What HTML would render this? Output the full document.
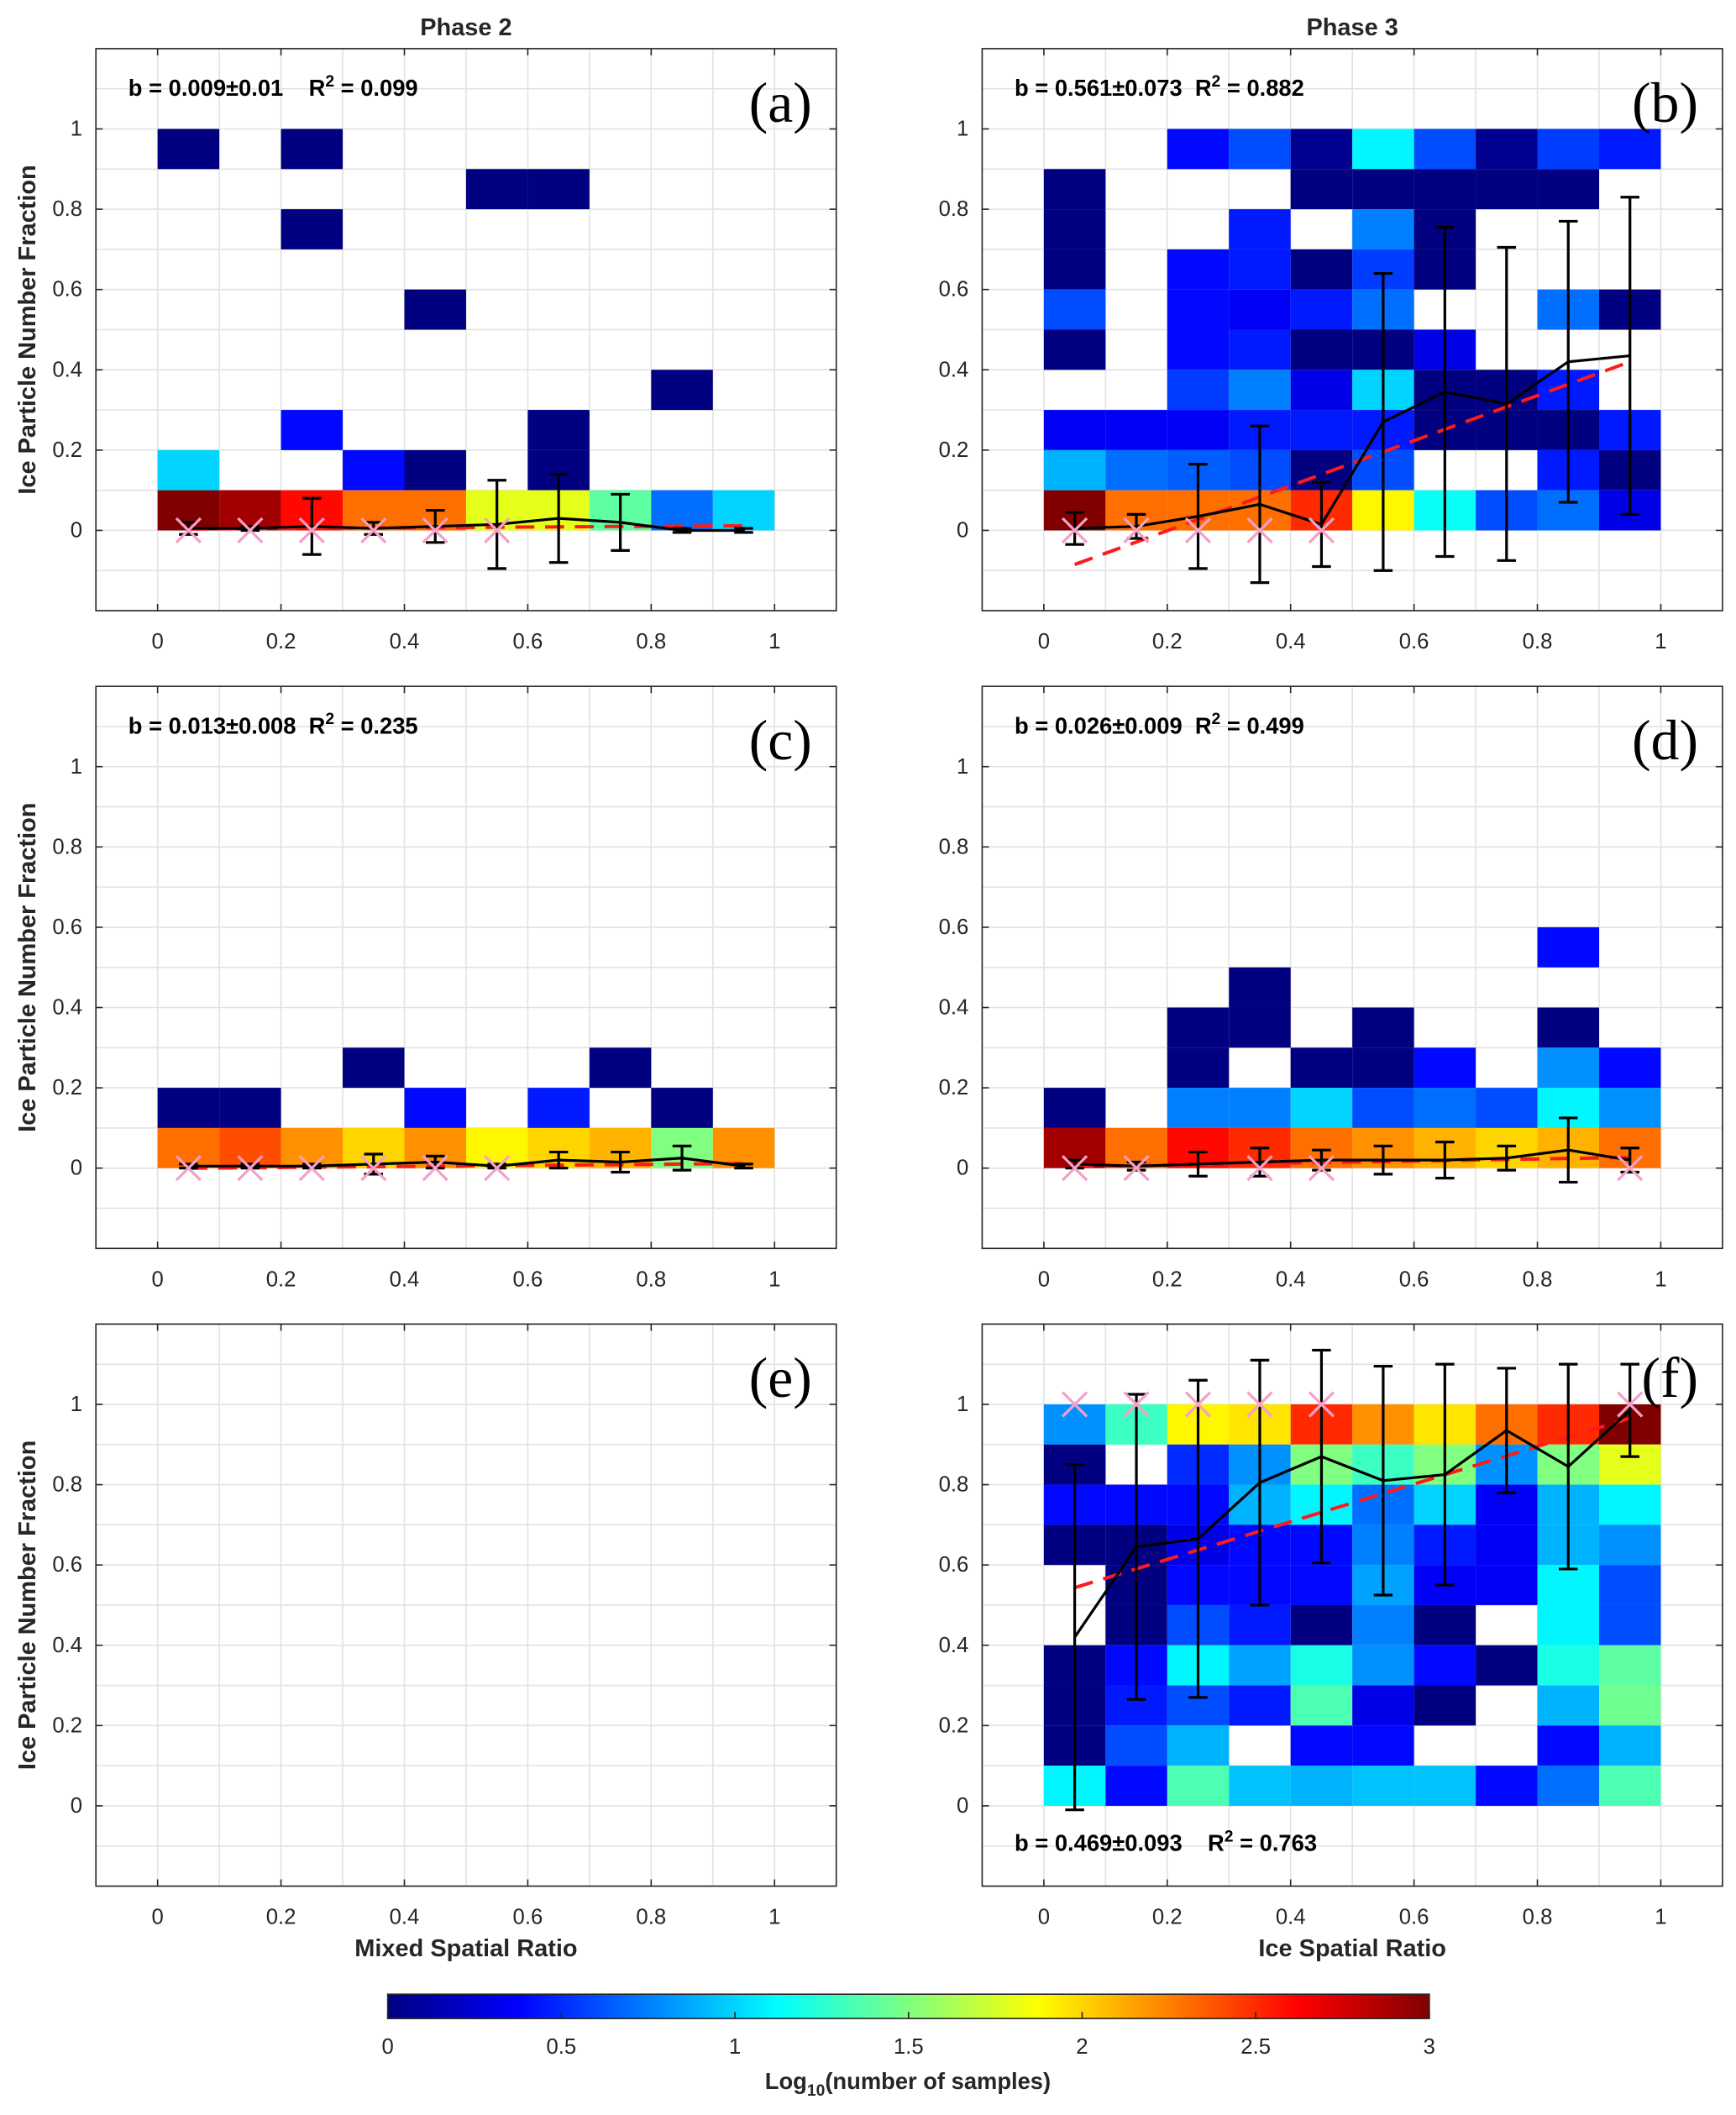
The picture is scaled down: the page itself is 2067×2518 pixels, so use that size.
<!DOCTYPE html>
<html><head><meta charset="utf-8"><style>
html,body{margin:0;padding:0;background:#fff}
svg{display:block}
text{font-family:"Liberation Sans",sans-serif}
</style></head><body>
<svg id="fig" width="2067" height="2518" viewBox="0 0 1285 1565.4" preserveAspectRatio="none" xmlns="http://www.w3.org/2000/svg">
<defs>
<linearGradient id="jet" x1="0" x2="1" y1="0" y2="0">
<stop offset="0" stop-color="#000080"/><stop offset="0.125" stop-color="#0000ff"/>
<stop offset="0.375" stop-color="#00ffff"/><stop offset="0.625" stop-color="#ffff00"/>
<stop offset="0.875" stop-color="#ff0000"/><stop offset="1" stop-color="#800000"/>
</linearGradient>
</defs>
</svg>
<script>
const n=null;
const xTicks=[0,0.2,0.4,0.6,0.8,1];
const yTicks=[0,0.2,0.4,0.6,0.8,1];
const cbTicks=[0,0.5,1,1.5,2,2.5,3];
const binCenters=[0.05,0.15,0.25,0.35,0.45,0.55,0.65,0.75,0.85,0.95];
const gridA=[[0,n,0,n,n,n,n,n,n,n],[n,n,n,n,n,0,0,n,n,n],[n,n,0,n,n,n,n,n,n,n],[n,n,n,n,n,n,n,n,n,n],[n,n,n,n,0,n,n,n,n,n],[n,n,n,n,n,n,n,n,n,n],[n,n,n,n,n,n,n,n,0,n],[n,n,0.4,n,n,n,0,n,n,n],[1.0,n,n,0.4,0,n,0,n,n,n],[3,2.9,2.6,2.3,2.3,1.8,1.8,1.4,0.7,1.0]];
const gridB=[[n,n,0.4,0.6,0.05,1.1,0.6,0.05,0.55,0.45],[0,n,n,n,0,0,0,0,0,n],[0,n,n,0.45,n,0.75,0,n,n,n],[0,n,0.4,0.45,0,0.55,0,n,n,n],[0.6,n,0.4,0.35,0.45,0.7,n,n,0.7,0],[0,n,0.4,0.45,0,0,0.3,n,n,n],[n,n,0.55,0.75,0.3,1.0,0,0,0.45,n],[0.35,0.35,0.35,0.45,0.45,0.45,0,0,0,0.45],[0.9,0.7,0.65,0.6,0,0.6,n,n,0.45,0],[3,2.3,2.3,2.3,2.5,1.9,1.15,0.6,0.7,0.3]];
const gridC=[[n,n,n,n,n,n,n,n,n,n],[n,n,n,n,n,n,n,n,n,n],[n,n,n,n,n,n,n,n,n,n],[n,n,n,n,n,n,n,n,n,n],[n,n,n,n,n,n,n,n,n,n],[n,n,n,n,n,n,n,n,n,n],[n,n,n,n,n,n,n,n,n,n],[n,n,n,0,n,n,n,0,n,n],[0,0,n,n,0.4,n,0.45,n,0,n],[2.3,2.4,2.2,2.0,2.2,1.9,2.0,2.1,1.5,2.2]];
const gridD=[[n,n,n,n,n,n,n,n,n,n],[n,n,n,n,n,n,n,n,n,n],[n,n,n,n,n,n,n,n,n,n],[n,n,n,n,n,n,n,n,n,n],[n,n,n,n,n,n,n,n,0.4,n],[n,n,n,0,n,n,n,n,n,n],[n,n,0,0,n,0,n,n,0,n],[n,n,0,n,0,0,0.4,n,0.8,0.4],[0,n,0.75,0.75,1.0,0.6,0.7,0.6,1.1,0.8],[2.9,2.3,2.6,2.5,2.3,2.2,2.1,2.0,2.1,2.3]];
const gridF=[[0.8,1.3,1.9,1.95,2.5,2.2,1.95,2.3,2.5,3],[0,n,0.5,0.8,1.5,1.3,1.5,0.8,1.5,1.8],[0.4,0.4,0.4,0.9,1.1,0.7,1.0,0.35,0.9,1.1],[0,0,0.3,0.4,0.4,0.75,0.45,0.35,0.9,0.8],[n,0,0.4,0.4,0.4,0.85,0.35,0.35,1.1,0.6],[n,0,0.6,0.45,0,0.75,0,n,1.1,0.6],[0,0.4,1.1,0.85,1.2,0.8,0.4,0,1.2,1.4],[0,0.45,0.6,0.45,1.35,0.3,0,n,0.9,1.45],[0,0.6,0.9,n,0.4,0.4,n,n,0.4,0.9],[1.1,0.4,1.35,0.95,0.9,0.95,0.95,0.4,0.7,1.35]];
const meanA=[0.005,0.005,0.01,0.005,0.01,0.015,0.03,0.02,0,0];
const errA=[0.015,0.005,0.07,0.015,0.04,0.11,0.11,0.07,0.005,0.005];
const medA=[0,0,0,0,0,0,n,n,n,n];
const meanB=[0.005,0.01,0.035,0.065,0.015,0.27,0.345,0.315,0.42,0.435];
const errB=[0.04,0.03,0.13,0.195,0.105,0.37,0.41,0.39,0.35,0.395];
const medB=[0,0,0,0,0,n,n,n,n,n];
const meanC=[0.005,0.005,0.005,0.01,0.015,0.005,0.02,0.015,0.025,0.005];
const errC=[0.005,0.005,0.005,0.025,0.015,0.005,0.02,0.025,0.03,0.005];
const medC=[0,0,0,0,0,0,n,n,n,n];
const meanD=[0.01,0.005,0.01,0.015,0.02,0.02,0.02,0.025,0.045,0.02];
const errD=[0.01,0.01,0.03,0.035,0.025,0.035,0.045,0.03,0.08,0.03];
const medD=[0,0,n,0,0,n,n,n,n,0];
const meanF=[0.42,0.645,0.665,0.805,0.87,0.81,0.825,0.935,0.845,0.985];
const errF=[0.43,0.38,0.395,0.305,0.265,0.285,0.275,0.155,0.255,0.115];
const medF=[1,1,1,1,1,n,n,n,n,1];
const fitA=[0.009,0.003], fitB=[0.561,-0.113], fitC=[0.013,-0.001], fitD=[0.026,0.002], fitF=[0.469,0.52];

const NS="http://www.w3.org/2000/svg";
const svg=document.getElementById('fig');
function mk(tag,attrs,parent,txt){const e=document.createElementNS(NS,tag);for(const k in attrs)e.setAttribute(k,attrs[k]);if(txt!=null)e.textContent=txt;(parent||svg).appendChild(e);return e;}
function jet(v){const t=Math.max(0,Math.min(1,v/3));
 const stops=[[0,0,0,128],[0.125,0,0,255],[0.375,0,255,255],[0.625,255,255,0],[0.875,255,0,0],[1,128,0,0]];
 for(let i=0;i<stops.length-1;i++){const a=stops[i],b=stops[i+1];if(t<=b[0]){const f=(t-a[0])/(b[0]-a[0]);return `rgb(${Math.round(a[1]+f*(b[1]-a[1]))},${Math.round(a[2]+f*(b[2]-a[2]))},${Math.round(a[3]+f*(b[3]-a[3]))})`;}}
 return 'rgb(128,0,0)';}

function panel(id,L,T,grid,mean,err,med,fit,stat,statY,label){
 const W=548,H=416;
 const sx=x=>L+(x+0.1)/1.2*W, sy=y=>T+(1.2-y)/1.4*H;
 const g=mk('g',{});
 
 
 mk('rect',{x:L,y:T,width:W,height:H,fill:'#fff'},g);
 for(let i=-1;i<=11;i++){const x=sx(i/10);mk('line',{x1:x,x2:x,y1:T,y2:T+H,stroke:'#e2e2e2','stroke-width':1},g);}
 for(let i=-2;i<=12;i++){const y=sy(i/10);mk('line',{x1:L,x2:L+W,y1:y,y2:y,stroke:'#e2e2e2','stroke-width':1},g);}
 if(grid){grid.forEach((row,ri)=>{const y0=0.9-ri*0.1;row.forEach((v,ci)=>{if(v==null)return;
   const r=mk('rect',{x:sx(ci/10),y:sy(y0+0.1),width:sx(0.1)-sx(0),height:sy(0)-sy(0.1),fill:jet(v)},g);
   
   });});}
 mk('rect',{x:L,y:T,width:W,height:H,fill:'none',stroke:'#262626','stroke-width':1},g);
 xTicks.forEach(t=>{const x=sx(t);mk('line',{x1:x,x2:x,y1:T+H,y2:T+H-5,stroke:'#262626'},g);mk('line',{x1:x,x2:x,y1:T,y2:T+5,stroke:'#262626'},g);
   const tl=mk('text',{x:x,y:T+H+28,'font-size':16,'text-anchor':'middle',fill:'#262626'},g,String(t));
   
   });
 yTicks.forEach(t=>{const y=sy(t);mk('line',{x1:L,x2:L+5,y1:y,y2:y,stroke:'#262626'},g);mk('line',{x1:L+W,x2:L+W-5,y1:y,y2:y,stroke:'#262626'},g);
   const tl=mk('text',{x:L-10,y:y+5,'font-size':16,'text-anchor':'end',fill:'#262626'},g,String(t));
   
   });
 if(mean){
  const fl=mk('line',{x1:sx(0.05),y1:sy(fit[0]*0.05+fit[1]),x2:sx(0.95),y2:sy(fit[0]*0.95+fit[1]),stroke:'#ff1a1a','stroke-width':2.5,'stroke-dasharray':'14,8'},g);
  
  
  binCenters.forEach((c,i)=>{const x=sx(c);
   mk('line',{x1:x,x2:x,y1:sy(mean[i]-err[i]),y2:sy(mean[i]+err[i]),stroke:'#000','stroke-width':2},g);
   [mean[i]-err[i],mean[i]+err[i]].forEach(v=>mk('line',{x1:x-7,x2:x+7,y1:sy(v),y2:sy(v),stroke:'#000','stroke-width':2},g));});
  const ml=mk('polyline',{points:binCenters.map((c,i)=>sx(c)+','+sy(mean[i])).join(' '),fill:'none',stroke:'#000','stroke-width':2},g);
  
  
  med.forEach((m,i)=>{if(m==null)return;const x=sx(binCenters[i]),y=sy(m),d=9;
   mk('path',{d:`M${x-d},${y-d}L${x+d},${y+d}M${x-d},${y+d}L${x+d},${y-d}`,stroke:'#f4a0c8','stroke-width':2},g);});
 }
 if(stat){const st=mk('text',{x:L+24,y:statY,'font-size':17,'font-weight':'bold',fill:'#000',style:'white-space:pre'},g);
  
  
  mk('tspan',{},st,stat[0]);mk('tspan',{dy:-7,'font-size':12},st,'2');mk('tspan',{dy:7},st,' = '+stat[1]);}
 const lb=mk('text',{x:L+W-18,y:T+54,'font-size':42,'text-anchor':'end',style:'font-family:"Liberation Serif",serif',fill:'#000'},g,label);
 
 
}
panel('a',71,36,gridA,meanA,errA,medA,fitA,['b = 0.009±0.01    R','0.099'],71,'(a)');
panel('b',727,36,gridB,meanB,errB,medB,fitB,['b = 0.561±0.073  R','0.882'],71,'(b)');
panel('c',71,508,gridC,meanC,errC,medC,fitC,['b = 0.013±0.008  R','0.235'],543,'(c)');
panel('d',727,508,gridD,meanD,errD,medD,fitD,['b = 0.026±0.009  R','0.499'],543,'(d)');
panel('e',71,980,null,null,null,null,null,null,0,'(e)');
panel('f',727,980,gridF,meanF,errF,medF,fitF,['b = 0.469±0.093    R','0.763'],1370,'(f)');

function lbl(name,attrs,txt){const t=mk('text',Object.assign({'font-size':18,'font-weight':'bold','text-anchor':'middle',fill:'#262626'},attrs),svg,txt);
 
 return t;}
lbl('title-phase-2',{x:345,y:26},'Phase 2');
lbl('title-phase-3',{x:1001,y:26},'Phase 3');
lbl('x-axis-title-mixed',{x:345,y:1448},'Mixed Spatial Ratio');
lbl('x-axis-title-ice',{x:1001,y:1448},'Ice Spatial Ratio');
[244,716,1188].forEach((cy,i)=>{lbl('y-axis-title-'+(i+1),{x:26,y:cy,transform:`rotate(-90 26 ${cy})`},'Ice Particle Number Fraction');});

const cb=mk('rect',{x:287,y:1476,width:771,height:18,fill:'url(#jet)',stroke:'#262626','stroke-width':1});


cbTicks.forEach(t=>{const x=287+t/3*771;mk('line',{x1:x,x2:x,y1:1494,y2:1489,stroke:'#262626'});
 const tl=mk('text',{x:x,y:1520,'font-size':16,'text-anchor':'middle',fill:'#262626'},svg,String(t));
 
 });
const ct=lbl('colorbar-title',{x:672,y:1546,'font-size':17});
ct.textContent='';
mk('tspan',{},ct,'Log');mk('tspan',{dy:5,'font-size':12},ct,'10');mk('tspan',{dy:-5},ct,'(number of samples)');
</script>
</body></html>
